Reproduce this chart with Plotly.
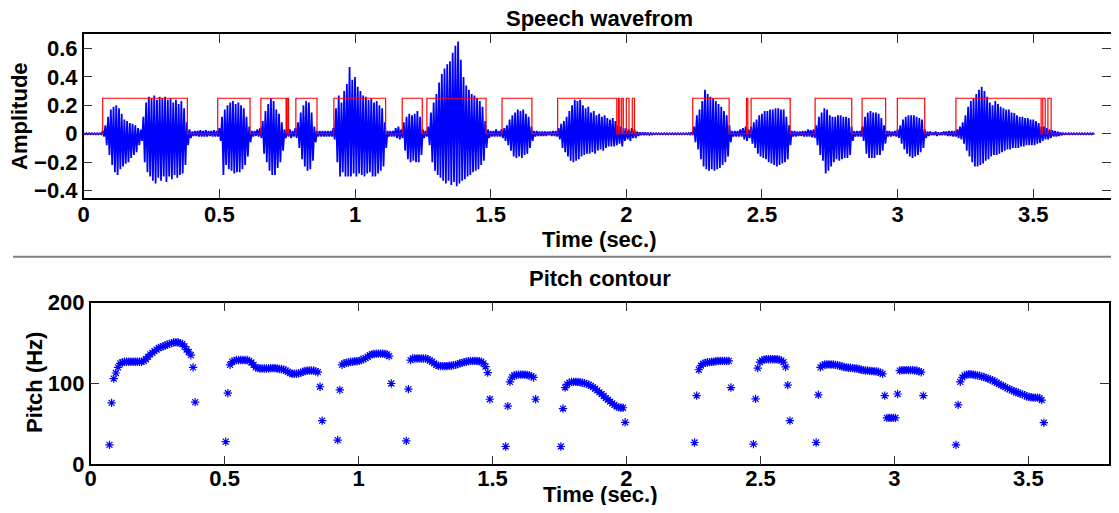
import plotly.graph_objects as go

# The page keeps the browser's default 8 px body margin, so the figure is sized
# to fill the 1119x513 window exactly inside that margin.
PAGE_W, PAGE_H, BODY_MARGIN = 1119, 513, 8
FW, FH = PAGE_W - 2 * BODY_MARGIN, PAGE_H - 2 * BODY_MARGIN

# ---------------- waveform envelope (10 ms bins) ----------------
wave_dt = 0.01
wave_max = [
    .004, .004, .004, .004, .004, .004, .004, .02, .06, .12,
    .17, .19, .20, .18, .14, .10, .09, .075, .07, .06,
    .04, .03, .12, .22, .26, .25, .27, .24, .26, .25,
    .26, .24, .25, .22, .24, .21, .23, .18, .08, .03,
    .015, .02, .02, .025, .02, .025, .02, .02, .025, .02,
    .04, .12, .17, .20, .22, .23, .21, .22, .20, .18,
    .12, .05, .02, .02, .03, .04, .09, .16, .21, .25,
    .23, .17, .14, .08, .03, .03, .03, .02, .04, .08,
    .15, .20, .23, .22, .15, .05, .02, .02, .02, .02,
    .02, .02, .04, .18, .27, .22, .30, .35, .47, .38,
    .40, .33, .30, .27, .26, .24, .25, .22, .23, .20,
    .18, .08, .02, .02, .02, .04, .05, .03, .08, .12,
    .14, .13, .14, .16, .12, .03, .02, .05, .15, .22,
    .28, .36, .42, .46, .49, .51, .57, .62, .65, .52,
    .40, .34, .31, .28, .27, .25, .23, .19, .09, .03,
    .02, .02, .03, .02, .03, .04, .06, .10, .13, .15,
    .17, .16, .17, .14, .12, .05, .02, .02, .015, .015,
    .015, .015, .015, .02, .02, .04, .07, .09, .12, .16,
    .20, .24, .23, .24, .20, .18, .19, .15, .16, .13,
    .14, .12, .13, .11, .10, .11, .09, .06, .05, .04,
    .04, .03, .04, .03, .015, .01, .01, .01, .008, .006,
    .004, .004, .004, .004, .004, .004, .004, .004, .004, .004,
    .004, .004, .004, .005, .01, .05, .13, .17, .23, .31,
    .28, .26, .25, .23, .21, .19, .16, .13, .06, .02,
    .02, .02, .03, .04, .05, .03, .05, .08, .10, .13,
    .14, .16, .16, .17, .17, .18, .18, .17, .17, .12,
    .06, .02, .02, .015, .015, .02, .02, .03, .025, .03,
    .06, .12, .15, .18, .17, .13, .12, .12, .13, .13,
    .12, .12, .11, .05, .02, .02, .02, .05, .12, .15,
    .16, .15, .15, .14, .11, .06, .02, .02, .015, .02,
    .03, .06, .10, .12, .13, .13, .13, .12, .11, .10,
    .03, .015, .015, .01, .015, .01, .01, .015, .015, .02,
    .02, .02, .03, .05, .08, .13, .19, .23, .25, .28,
    .31, .33, .30, .26, .22, .20, .23, .21, .19, .18,
    .17, .17, .15, .145, .13, .12, .12, .11, .11, .10,
    .10, .09, .075, .05, .05, .04, .03, .025, .02, .015,
    .01, .004, .004, .004, .004, .004, .004, .004, .004, .004,
    .004, .004, .004,
]
wave_min = [
    -.004, -.004, -.004, -.004, -.004, -.004, -.004, -.02, -.08, -.15,
    -.22, -.27, -.29, -.25, -.23, -.21, -.20, -.17, -.15, -.13,
    -.08, -.05, -.20, -.27, -.30, -.33, -.35, -.31, -.33, -.30,
    -.34, -.30, -.32, -.29, -.31, -.29, -.28, -.22, -.08, -.03,
    -.015, -.015, -.02, -.02, -.02, -.02, -.015, -.02, -.02, -.02,
    -.05, -.29, -.22, -.25, -.26, -.28, -.27, -.27, -.25, -.22,
    -.16, -.06, -.02, -.015, -.02, -.03, -.14, -.20, -.26, -.29,
    -.29, -.24, -.20, -.12, -.03, -.02, -.03, -.02, -.03, -.10,
    -.18, -.23, -.26, -.25, -.19, -.06, -.02, -.02, -.02, -.02,
    -.02, -.02, -.04, -.20, -.30, -.27, -.30, -.30, -.30, -.28,
    -.30, -.28, -.29, -.30, -.28, -.27, -.30, -.30, -.28, -.26,
    -.23, -.10, -.02, -.02, -.02, -.03, -.04, -.03, -.12, -.18,
    -.20, -.19, -.20, -.20, -.15, -.03, -.02, -.08, -.20, -.26,
    -.29, -.31, -.33, -.35, -.33, -.36, -.34, -.37, -.35, -.33,
    -.32, -.30, -.29, -.27, -.26, -.25, -.22, -.19, -.10, -.03,
    -.02, -.02, -.02, -.02, -.03, -.05, -.08, -.12, -.16, -.17,
    -.16, -.17, -.15, -.14, -.10, -.05, -.02, -.015, -.015, -.015,
    -.015, -.01, -.015, -.015, -.02, -.04, -.10, -.13, -.16, -.19,
    -.20, -.19, -.18, -.16, -.15, -.14, -.14, -.13, -.14, -.12,
    -.11, -.12, -.10, -.09, -.09, -.09, -.08, -.07, -.09, -.05,
    -.04, -.05, -.03, -.03, -.015, -.01, -.01, -.01, -.008, -.006,
    -.004, -.004, -.004, -.004, -.004, -.004, -.004, -.004, -.004, -.004,
    -.004, -.004, -.004, -.005, -.01, -.06, -.11, -.18, -.23, -.25,
    -.26, -.25, -.26, -.25, -.24, -.22, -.20, -.16, -.06, -.02,
    -.02, -.02, -.02, -.04, -.05, -.03, -.07, -.10, -.14, -.16,
    -.17, -.18, -.20, -.21, -.22, -.23, -.22, -.21, -.20, -.18,
    -.08, -.02, -.02, -.015, -.015, -.02, -.02, -.02, -.025, -.03,
    -.08, -.15, -.19, -.28, -.26, -.23, -.20, -.18, -.19, -.18,
    -.17, -.17, -.15, -.05, -.02, -.02, -.02, -.05, -.14, -.17,
    -.17, -.17, -.15, -.15, -.12, -.07, -.02, -.02, -.015, -.02,
    -.03, -.07, -.11, -.14, -.16, -.17, -.16, -.15, -.13, -.10,
    -.03, -.015, -.01, -.01, -.015, -.01, -.01, -.01, -.015, -.015,
    -.02, -.02, -.03, -.04, -.07, -.12, -.16, -.20, -.23, -.23,
    -.22, -.21, -.19, -.18, -.16, -.15, -.15, -.14, -.13, -.12,
    -.11, -.11, -.10, -.10, -.10, -.09, -.09, -.08, -.08, -.08,
    -.08, -.07, -.065, -.05, -.04, -.04, -.03, -.02, -.02, -.015,
    -.01, -.004, -.004, -.004, -.004, -.004, -.004, -.004, -.004, -.004,
    -.004, -.004, -.004,
]

# ---------------- voicing indicator (red) ----------------
voiced_on = [0.070, 0.494, 0.653, 0.750, 0.782, 0.922, 1.174, 1.265, 1.542, 1.747,
             1.971, 1.983, 2.000, 2.022, 2.245, 2.443, 2.460, 2.696, 2.869, 2.999,
             3.215, 3.535, 3.554]
voiced_off = [0.382, 0.613, 0.746, 0.755, 0.860, 1.113, 1.248, 1.483, 1.652, 1.965,
              1.976, 1.989, 2.010, 2.030, 2.379, 2.448, 2.604, 2.831, 2.956, 3.100,
              3.529, 3.544, 3.566]
voicing_level = 0.25
signal_end = 3.726

# ---------------- pitch contour (Hz), 8 ms frames ----------------
frame_step = 0.008
pitch_seg_start = [0.070, 0.504, 0.922, 1.178, 1.549, 1.755, 2.254, 2.474, 2.708, 3.230]
pitch_1 = [24, 76, 106, 113, 120, 125, 126, 127, 127, 127, 127, 127, 127, 127, 127, 127,
           128, 130, 133, 136, 138, 140, 142, 144, 145, 146, 147, 148, 149, 150, 151, 151,
           151, 150, 149, 146, 142, 139, 135, 120, 77]
pitch_2 = [28, 88, 123, 127, 128, 129, 129, 129, 129, 129, 129, 128, 126, 123, 120, 119,
           118.5, 118.5, 118.5, 118.5, 118.5, 119, 119, 119, 118.5, 118, 118, 117, 116,
           114.5, 113, 112, 112, 112, 112.5, 113.5, 114.5, 115.5, 116, 116, 116, 116, 115,
           114, 96, 54]
pitch_3 = [30, 92, 123, 125, 125.5, 126, 127, 127, 127.5, 127.5, 128, 129, 130, 131.5, 133,
           135, 136, 136.5, 137, 137, 137, 137, 136.5, 136, 134, 100]
pitch_4 = [29, 93, 129, 131, 131, 131, 131, 131, 131, 131, 130, 128.5, 127, 125, 123, 122,
           121.5, 121.5, 121.5, 121.5, 122, 122, 122.5, 123, 124, 125, 125.5, 126.5, 127,
           127.5, 128, 128, 128, 128, 127.5, 127, 125, 121, 113.5, 80.5]
pitch_5 = [22, 72, 102, 108, 110, 110.5, 111, 111, 111, 111, 110.5, 110, 109, 107.5, 80.5]
pitch_6 = [22, 69, 95, 99, 101, 102, 102, 102, 102, 101.5, 101, 100.5, 99.5, 98.5, 97, 95.5,
           93.5, 91.5, 89, 87, 84.5, 82, 80, 77.5, 75.5, 73.5, 71.5, 70.5, 70, 70, 52]
pitch_7 = [27, 85, 117, 122, 124.5, 125.5, 126, 126.5, 127, 127, 127.5, 128, 128, 128, 128,
           128, 128, 95]
pitch_8 = [25, 81, 119, 126.5, 128.5, 129.5, 130, 130, 130, 130, 130, 130, 129.5, 128.5,
           126.5, 120.5, 98, 54]
pitch_9 = [27, 86, 120, 122.5, 123.5, 123.5, 123.5, 123.5, 123.5, 123, 122.5, 122, 121,
           120.5, 120, 119.5, 119.5, 119, 118.5, 118.5, 118, 117, 116.5, 116, 116, 115.5,
           115.5, 115, 115, 114.5, 113.5, 112, 85, 57.5, 57.5, 57.5, 57.5, 57.5, 87, 116,
           116.5, 116.5, 116.5, 116.5, 116.5, 116.5, 116, 116, 115, 114, 85]
pitch_10 = [24, 73.5, 102, 107.5, 110, 111, 111.5, 111.5, 111, 110.5, 110, 109.5, 108.5,
            108, 107, 106, 105, 104, 102.5, 101, 99.5, 98, 97, 95.5, 94, 93, 91.5, 90.5,
            89.5, 88.5, 87.5, 86.5, 85.5, 84, 83.5, 83, 82.5, 82.5, 82.5, 82, 79.5, 51.5]
pitch_segments = [pitch_1, pitch_2, pitch_3, pitch_4, pitch_5, pitch_6, pitch_7, pitch_8,
                  pitch_9, pitch_10]

# ---------------- ticks ----------------
time_ticks = [0, 0.5, 1, 1.5, 2, 2.5, 3, 3.5]
time_tick_labels = ["0", "0.5", "1", "1.5", "2", "2.5", "3", "3.5"]
amp_ticks = [-0.4, -0.2, 0, 0.2, 0.4, 0.6]
amp_tick_labels = ["\u22120.4", "\u22120.2", "0", "0.2", "0.4", "0.6"]
pitch_ticks = [0, 100, 200]
pitch_tick_labels = ["0", "100", "200"]

# ---------------- build traces ----------------
wx, wy = [], []
for i, (hi, lo) in enumerate(zip(wave_max, wave_min)):
    t = i * wave_dt
    wx += [t, t + wave_dt / 2]
    wy += [hi, lo]

rx, ry = [0.0], [0.0]
for on, off in zip(voiced_on, voiced_off):
    rx += [on, on, off, off]
    ry += [0, voicing_level, voicing_level, 0]
rx.append(signal_end)
ry.append(0)

px, py = [], []
for start, vals in zip(pitch_seg_start, pitch_segments):
    for j, v in enumerate(vals):
        px.append(start + j * frame_step)
        py.append(v)

FONT = "Liberation Sans, Arial, sans-serif"
BLUE = "#0000ff"

fig = go.Figure()
fig.add_trace(go.Scatter(x=wx, y=wy, mode="lines", line=dict(color=BLUE, width=1.8),
                         xaxis="x", yaxis="y", hoverinfo="skip"))
fig.add_trace(go.Scatter(x=rx, y=ry, mode="lines", line=dict(color="#ff0000", width=1.2),
                         xaxis="x", yaxis="y", hoverinfo="skip"))
fig.add_trace(go.Scatter(x=px, y=py, mode="markers",
                         marker=dict(symbol="asterisk-open", size=7, color=BLUE,
                                     line=dict(color=BLUE, width=1.2)),
                         xaxis="x2", yaxis="y2", hoverinfo="skip"))


# reference-image pixel -> paper fraction of the (margin-offset) figure
def fx(p):
    return (p - BODY_MARGIN) / FW


def fy(p):
    return 1 - (p - BODY_MARGIN) / FH


# top panel: 0 s at x=83.7 px, 271.3 px per second; right frame kept inside the page
top_left_px, top_right_px, top_px_per_s = 83.7, 1110.5, 271.3
top_xmax = (top_right_px - top_left_px) / top_px_per_s

tickfont = dict(family=FONT, size=22, color="black", weight="bold")
axis_common = dict(showline=True, linecolor="black", linewidth=1.5, mirror="ticks",
                   ticks="inside", ticklen=9, tickcolor="#333333", tickwidth=1,
                   showgrid=False, zeroline=False, tickfont=tickfont, fixedrange=True,
                   automargin=False)

fig.update_layout(
    width=FW, height=FH, margin=dict(l=0, r=0, t=0, b=0, pad=0),
    paper_bgcolor="white", plot_bgcolor="white", showlegend=False,
    xaxis=dict(domain=[fx(top_left_px), fx(top_right_px)], range=[0, top_xmax], anchor="y",
               tickvals=time_ticks, ticktext=time_tick_labels, ticklabelstandoff=-4,
               **axis_common),
    yaxis=dict(domain=[fy(197.7), fy(34.3)], range=[-0.45, 0.7], anchor="x",
               tickvals=amp_ticks, ticktext=amp_tick_labels, **axis_common),
    xaxis2=dict(domain=[fx(90.7), fx(1108.7)], range=[0, 3.8], anchor="y2",
                tickvals=time_ticks, ticktext=time_tick_labels, ticklabelstandoff=-6,
                **axis_common),
    yaxis2=dict(domain=[fy(464.3), fy(302.7)], range=[0, 200], anchor="x2",
                tickvals=pitch_ticks, ticktext=pitch_tick_labels, **axis_common),
)

lab = dict(family=FONT, size=22, color="black", weight="bold")
annos = [
    ("Speech wavefrom", 599, 18, 0),
    ("Time (sec.)", 599, 239, 0),
    ("Amplitude", 20, 116, -90),
    ("Pitch contour", 600, 278, 0),
    ("Time (sec.)", 600, 494, 0),
    ("Pitch (Hz)", 34, 383, -90),
]
for text, x, y, ang in annos:
    fig.add_annotation(text=text, x=fx(x), y=fy(y), xref="paper", yref="paper",
                       xanchor="center", yanchor="middle", showarrow=False,
                       textangle=ang, font=lab)

fig.add_shape(type="line", xref="paper", yref="paper", x0=fx(13), x1=1,
              y0=fy(256.7), y1=fy(256.7), line=dict(color="#808080", width=2))

fig.write_html("out.html", config={"displayModeBar": False})
